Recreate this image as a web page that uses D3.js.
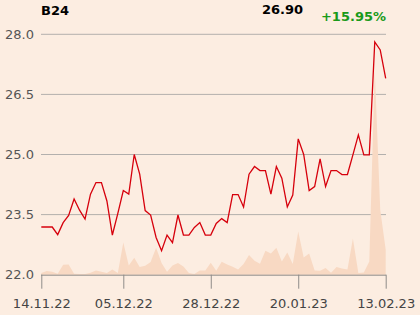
<!DOCTYPE html>
<html><head><meta charset="utf-8">
<script src="https://cdn.jsdelivr.net/npm/d3@7/dist/d3.min.js"></script>
<style>
html,body{margin:0;padding:0;background:#fcede1;}
svg{display:block;font-family:"DejaVu Sans",sans-serif;}
</style></head>
<body>
<svg id="chart" width="420" height="315"></svg>
<script>
const title = "B24";
const lastLabel = "26.90";
const changeLabel = "+15.95%";
const prices = [23.19,23.19,23.19,23.00,23.30,23.48,23.89,23.61,23.39,24.01,
  24.30,24.30,23.84,22.99,23.53,24.10,24.01,25.00,24.51,23.60,
  23.49,22.93,22.60,22.99,22.80,23.49,22.99,22.99,23.18,23.30,
  22.99,22.99,23.28,23.40,23.30,24.00,24.00,23.69,24.51,24.70,
  24.60,24.60,24.01,24.70,24.41,23.69,23.99,25.39,25.00,24.10,
  24.20,24.89,24.20,24.60,24.60,24.50,24.50,24.99,25.49,24.99,
  24.99,27.81,27.61,26.90];
const volumes = [1.7,3.7,3,1,10,10.3,1,0.7,0.7,2,
  4.3,3,1.7,5.3,1.7,32.3,9.3,17,7.7,9,
  12.7,27,11.7,3,9.3,11.7,8.3,1.7,0.7,4.3,
  4.3,12,4,13,10.3,8,5.3,10.7,19.7,14,
  11,24,21.3,27,13.3,22.3,10.7,43.3,17.3,21.3,
  4.3,4,6.7,2,7.7,6.3,5.3,36.3,1.7,2.3,
  13.3,205,65,25];
const yTicks = [22.0,23.5,25.0,26.5,28.0];
const xTickIdx = [0,15,31,47,63];
const xTickLabels = ["14.11.22","05.12.22","28.12.22","20.01.23","13.02.23"];

const svg = d3.select("#chart");
const x = d3.scaleLinear().domain([0, prices.length-1]).range([41.3, 385.7]);
const y = d3.scaleLinear().domain([22, 28]).range([274.7, 34.3]);
const yv = d3.scaleLinear().domain([0, 205]).range([274.7, 70]);

// grid
svg.append("g").selectAll("line").data(yTicks.slice(1)).join("line")
  .attr("x1", 41).attr("x2", 386)
  .attr("y1", d=>y(d)).attr("y2", d=>y(d))
  .attr("stroke", "#b3b0ad").attr("stroke-width", 1);

// volume area
svg.append("path").datum(volumes)
  .attr("fill", "#f8d9c3")
  .attr("d", d3.area().x((d,i)=>x(i)).y0(yv(0)).y1(d=>yv(d)));

// price line
svg.append("path").datum(prices)
  .attr("fill", "none").attr("stroke", "#d6000c").attr("stroke-width", 1.3)
  .attr("stroke-linejoin", "miter")
  .attr("d", d3.line().x((d,i)=>x(i)).y(d=>y(d)));

// x axis
const xAxis = d3.axisBottom(x).tickValues(xTickIdx)
  .tickFormat((d,i)=>xTickLabels[i]).tickSize(14).tickPadding(10.5);
const gx = svg.append("g").attr("transform", `translate(0,${y(22)})`).call(xAxis);
gx.select(".domain").attr("stroke", "#8f8c89").attr("d", "M41,0.5H386");
gx.selectAll(".tick line").attr("stroke", "#8f8c89");
gx.selectAll("text").attr("fill", "#444").style("font-size", "13px")
  .style("font-family", "'DejaVu Sans',sans-serif");

// y labels
svg.append("g").selectAll("text").data(yTicks).join("text")
  .attr("x", 34).attr("y", d=>y(d)+4.5)
  .attr("text-anchor", "end").attr("fill", "#555").style("font-size", "13px")
  .text(d=>d.toFixed(1));

// header
svg.append("text").attr("x", 41).attr("y", 15).attr("font-weight", "bold")
  .style("font-size", "13px").attr("fill", "#000").text(title);
svg.append("text").attr("x", 303).attr("y", 14).attr("text-anchor", "end").attr("font-weight", "bold")
  .style("font-size", "13px").attr("fill", "#000").text(lastLabel);
svg.append("text").attr("x", 386).attr("y", 21).attr("text-anchor", "end").attr("font-weight", "bold")
  .style("font-size", "13px").attr("fill", "#1a9a1a").text(changeLabel);
</script>
</body></html>
